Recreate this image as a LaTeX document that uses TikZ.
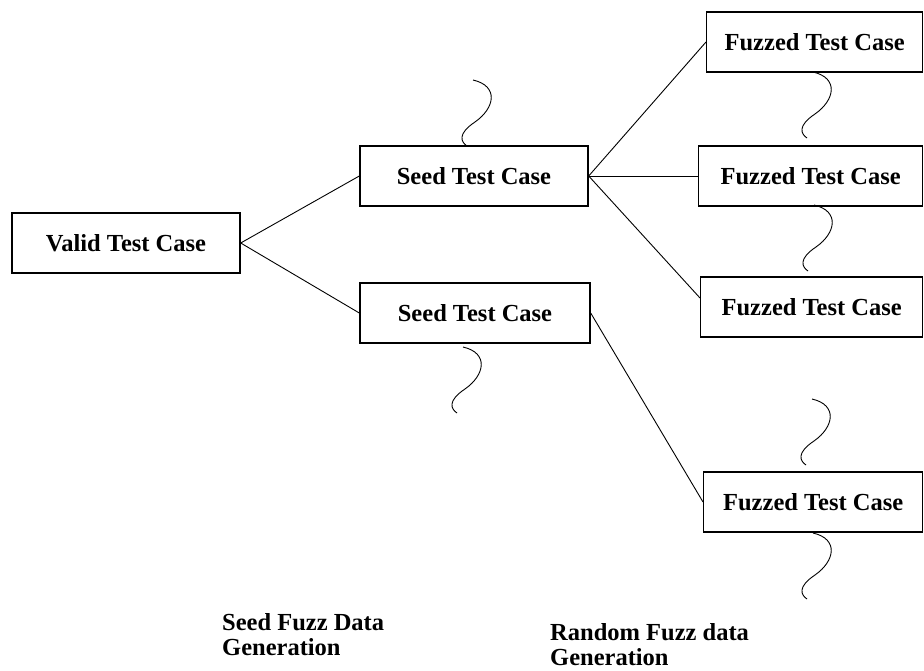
\documentclass[tikz,border=0pt]{standalone}
\usepackage{fontspec}
\setmainfont{Liberation Serif}
\usetikzlibrary{positioning,calc}
\tikzset{
  casebox/.style={draw=black, line width=1.4pt, fill=white, minimum height=60pt,
                  inner sep=0pt, align=center, font=\fontsize{24.5}{27}\selectfont\bfseries},
  fuzzbox/.style={casebox, anchor=west},
  lbl/.style={inner sep=0pt, align=left, anchor=north west,
              font=\fontsize{24.5}{25}\selectfont\bfseries},
  link/.style={line width=0.9pt, color=black},
  squigline/.style={line width=0.9pt, color=black},
  squig/.pic={\draw[squigline] (0,0) .. controls (26,6) and (22,28) .. (2,42)
                 .. controls (-16,54) and (-12,62) .. (-6,66);}}
\begin{document}
\begin{tikzpicture}[x=1pt, y=-1pt]
    \useasboundingbox (0,0) rectangle (924,671);
    \node[casebox, minimum width=228pt] (valid) at (126,243) {Valid Test Case};
    \node[casebox, minimum width=228pt] (seedA) at (474,176) {Seed Test Case};
    \node[casebox, minimum width=230pt] (seedB) at (475,313) {Seed Test Case};
    \node[fuzzbox, minimum width=216pt] (fuzzA) at (706,42) {Fuzzed Test Case};
    \node[fuzzbox, minimum width=224pt] (fuzzB) at (698,176) {Fuzzed Test Case};
    \node[fuzzbox, minimum width=222pt] (fuzzC) at (700,307) {Fuzzed Test Case};
    \node[fuzzbox, minimum width=219pt] (fuzzD) at (703,502) {Fuzzed Test Case};
    \draw[link] (valid.east) -- (seedA.west);
    \draw[link] (valid.east) -- (seedB.west);
    \draw[link] (seedA.east) -- (fuzzA.west);
    \draw[link] (seedA.east) -- (fuzzB.west);
    \draw[link] (seedA.east) -- ($(fuzzC.west)+(0,-9)$);
    \draw[link] (seedB.east) -- (fuzzD.west);
    % the fuzz squiggles
    \pic at (473,80) {squig};
    \pic at (813,72) {squig};
    \pic at (814,205) {squig};
    \pic at (463,347) {squig};
    \pic at (812,399) {squig};
    \pic at (813,533) {squig};
    \node[lbl] (seedlbl) at (222,613) {Seed Fuzz Data\\Generation};
    \node[lbl] (randlbl) at (550,623) {Random Fuzz data\\Generation};
  \end{tikzpicture}
\end{document}
